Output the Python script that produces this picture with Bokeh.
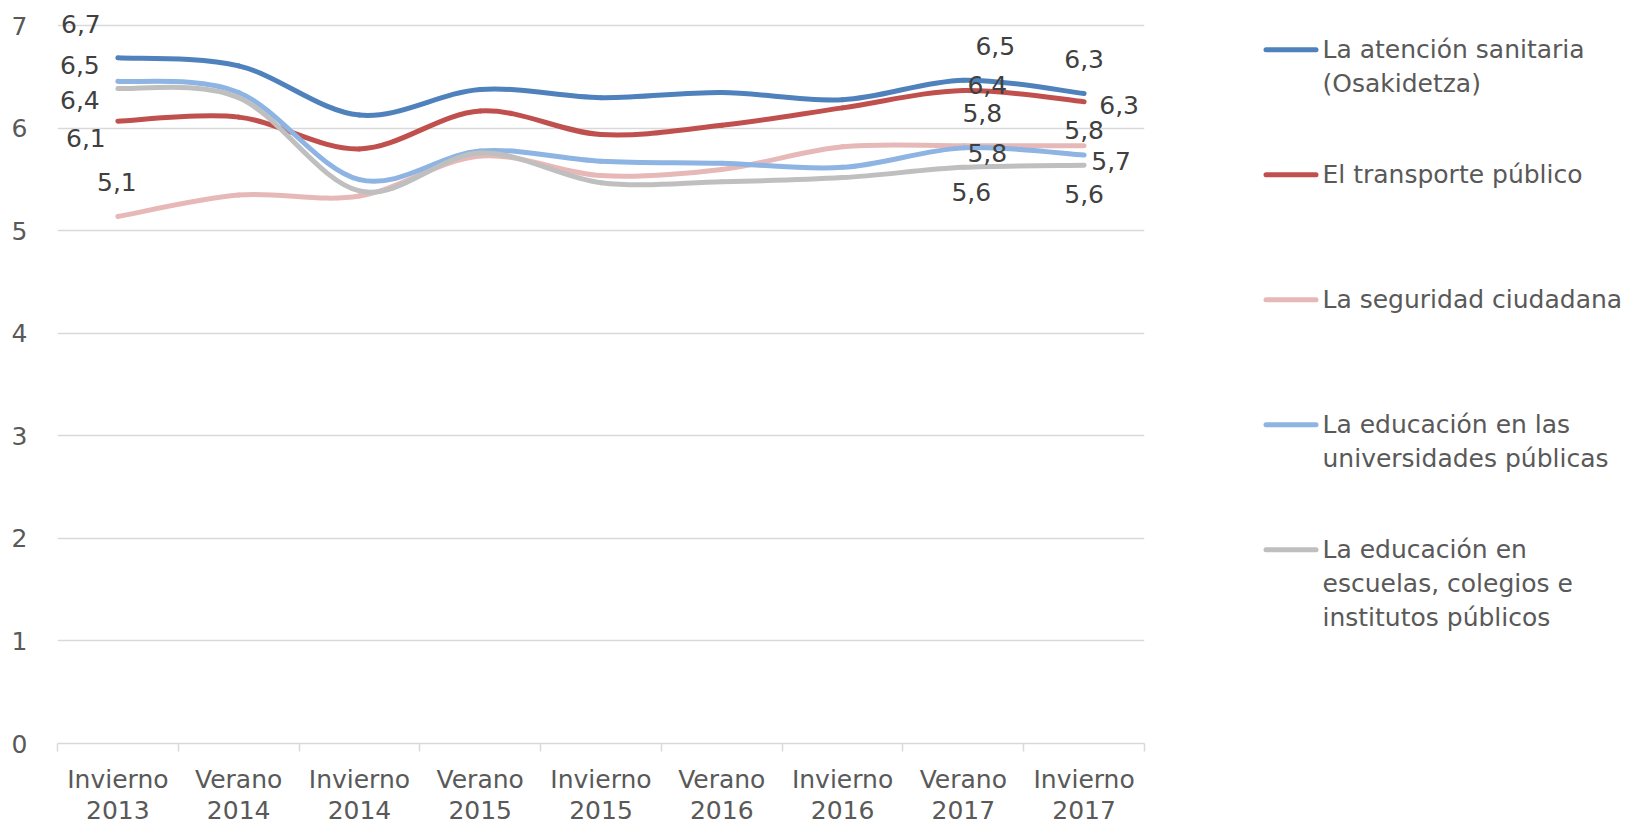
from bokeh.plotting import figure
from bokeh.models import Range1d, FixedTicker, ColumnDataSource
from bokeh.layouts import row
from bokeh.embed import file_html
from bokeh.resources import INLINE
from bokeh.core.properties import value

# ---------------- data ----------------
categories = ["Invierno 2013", "Verano 2014", "Invierno 2014", "Verano 2015",
              "Invierno 2015", "Verano 2016", "Invierno 2016", "Verano 2017",
              "Invierno 2017"]

series_names = [
    "La atención sanitaria (Osakidetza)",
    "El transporte público",
    "La seguridad ciudadana",
    "La educación en las universidades públicas",
    "La educación en escuelas, colegios e institutos públicos",
]
legend_lines = [
    ["La atención sanitaria", "(Osakidetza)"],
    ["El transporte público"],
    ["La seguridad ciudadana"],
    ["La educación en las", "universidades públicas"],
    ["La educación en", "escuelas, colegios e", "institutos públicos"],
]

atencion_sanitaria = [6.69, 6.61, 6.13, 6.38, 6.30, 6.35, 6.28, 6.47, 6.34]
transporte_publico = [6.07, 6.11, 5.80, 6.17, 5.94, 6.03, 6.20, 6.37, 6.26]
seguridad_ciudadana = [5.14, 5.35, 5.34, 5.73, 5.54, 5.60, 5.82, 5.83, 5.83]
universidades = [6.46, 6.35, 5.50, 5.78, 5.68, 5.66, 5.62, 5.81, 5.74]
escuelas = [6.39, 6.30, 5.39, 5.76, 5.47, 5.48, 5.52, 5.62, 5.64]

y_ticks = [0, 1, 2, 3, 4, 5, 6, 7]

# ---------------- styles ----------------
colors = ["#4F81BD", "#C0504D", "#E6B9B8", "#8DB4E2", "#BFBFBF"]
FONT = "DejaVu Sans"
FS = "25px"
LEG_FS = "25px"
AXIS_TXT = "#595959"
LABEL_TXT = "#404040"
GRID = "#D9D9D9"
LW = 5

# indices of categories that carry data labels, with per-series pixel offsets
label_idx = [0, 7, 8]
label_offsets = {  # (dx, dy) in pixels for each labelled category
    0: [(-37, -34), (32, -34), (0, -35)],
    1: [(-32, 17), (24, -5), (35, 3)],
    2: [(-1, -35), (19, -33), (0, -16)],
    3: [(-38, -16), (24, 5), (27, 6)],
    4: [(-38, 12), (8, 25), (0, 29)],
}

all_series = [atencion_sanitaria, transporte_publico, seguridad_ciudadana,
              universidades, escuelas]

n = len(categories)
xs = [i + 0.5 for i in range(n)]

FRAME_TOP = 10
FRAME_H = 733
FRAME_LEFT = 57
FRAME_W = 1087
RIGHT_PAD = 14

p = figure(frame_width=FRAME_W, frame_height=FRAME_H,
           x_range=Range1d(0, n), y_range=Range1d(0, 7.15),
           output_backend="svg", toolbar_location=None,
           min_border_left=FRAME_LEFT, min_border_right=RIGHT_PAD,
           min_border_top=FRAME_TOP, min_border_bottom=10)
p.outline_line_color = None
p.background_fill_color = "white"
p.border_fill_color = "white"

# axes
p.xgrid.visible = False
p.ygrid.grid_line_color = GRID
p.ygrid.grid_line_width = 1.5
p.ygrid.ticker = FixedTicker(ticks=y_ticks)

p.yaxis.ticker = FixedTicker(ticks=y_ticks)
p.yaxis.axis_line_color = None
p.yaxis.major_tick_line_color = None
p.yaxis.minor_tick_line_color = None
p.yaxis.major_label_standoff = 24
p.yaxis.major_label_text_font = FONT
p.yaxis.major_label_text_font_size = FS
p.yaxis.major_label_text_color = AXIS_TXT

p.xaxis.ticker = FixedTicker(ticks=xs, minor_ticks=list(range(n + 1)))
p.xaxis.axis_line_color = GRID
p.xaxis.axis_line_width = 1.5
p.xaxis.major_tick_line_color = None
p.xaxis.major_tick_out = 0
p.xaxis.major_tick_in = 0
p.xaxis.minor_tick_line_color = GRID
p.xaxis.minor_tick_line_width = 1.5
p.xaxis.minor_tick_out = 8
p.xaxis.minor_tick_in = 0
p.xaxis.major_label_overrides = {x: c.replace(" ", "\n") for x, c in zip(xs, categories)}
p.xaxis.major_label_standoff = 13
p.xaxis.major_label_text_font = FONT
p.xaxis.major_label_text_font_size = FS
p.xaxis.major_label_text_color = AXIS_TXT
p.xaxis.major_label_text_line_height = 1.08


def smooth_segments(vals):
    pts = list(zip(xs, vals))
    m = len(pts)
    d = dict(x0=[], y0=[], x1=[], y1=[], cx0=[], cy0=[], cx1=[], cy1=[])
    for i in range(m - 1):
        a = pts[max(i - 1, 0)]
        b = pts[i]
        c = pts[i + 1]
        e = pts[min(i + 2, m - 1)]
        d["x0"].append(b[0]); d["y0"].append(b[1])
        d["x1"].append(c[0]); d["y1"].append(c[1])
        d["cx0"].append(b[0] + (c[0] - a[0]) / 6.0)
        d["cy0"].append(b[1] + (c[1] - a[1]) / 6.0)
        d["cx1"].append(c[0] - (e[0] - b[0]) / 6.0)
        d["cy1"].append(c[1] - (e[1] - b[1]) / 6.0)
    return ColumnDataSource(d)


for vals, col in zip(all_series, colors):
    p.bezier(x0="x0", y0="y0", x1="x1", y1="y1", cx0="cx0", cy0="cy0",
             cx1="cx1", cy1="cy1", source=smooth_segments(vals),
             line_color=col, line_width=LW, line_cap="round")

# data labels
lx, ly, lt, ldx, ldy = [], [], [], [], []
for s, vals in enumerate(all_series):
    for k, idx in enumerate(label_idx):
        lx.append(xs[idx])
        ly.append(vals[idx])
        lt.append(f"{vals[idx]:.1f}".replace(".", ","))
        ldx.append(label_offsets[s][k][0])
        ldy.append(label_offsets[s][k][1])
lsrc = ColumnDataSource(dict(x=lx, y=ly, text=lt, dx=ldx, dy=ldy))
p.text(x="x", y="y", text="text", x_offset="dx", y_offset="dy", source=lsrc,
       text_font=value(FONT), text_font_size=value(FS), text_color=LABEL_TXT,
       text_align="center", text_baseline="middle")

# ---------------- legend panel (page-pixel coordinates) ----------------
P_W = FRAME_LEFT + FRAME_W + RIGHT_PAD   # width of the chart figure
LEG_W = 468
LEG_TOP = 49.3
LEG_STEP = 125
LEG_LINE = 34
MARK_X0, MARK_X1, TEXT_X = 1265.5, 1315.5, 1322

lf = figure(frame_width=LEG_W, frame_height=FRAME_H,
            x_range=Range1d(P_W, P_W + LEG_W),
            y_range=Range1d(FRAME_TOP + FRAME_H, FRAME_TOP),
            x_axis_type=None, y_axis_type=None,
            output_backend="svg", toolbar_location=None,
            min_border=0, min_border_left=0, min_border_right=0,
            min_border_top=FRAME_TOP, min_border_bottom=10)
lf.outline_line_color = None
lf.background_fill_color = "white"
lf.border_fill_color = "white"

for i, col in enumerate(colors):
    yc = LEG_TOP + i * LEG_STEP
    lf.segment(x0=[MARK_X0], y0=[yc], x1=[MARK_X1], y1=[yc], line_color=col,
               line_width=LW, line_cap="round")
tx, ty, tt = [], [], []
for i, lines in enumerate(legend_lines):
    for j, t in enumerate(lines):
        tx.append(TEXT_X)
        ty.append(LEG_TOP + i * LEG_STEP + j * LEG_LINE)
        tt.append(t)
lf.text(x=tx, y=ty, text=tt, text_font=value(FONT), text_font_size=value(LEG_FS),
        text_color=AXIS_TXT, text_align="left", text_baseline="middle")

layout = row(p, lf)
open("out.html", "w").write(file_html(layout, INLINE))
